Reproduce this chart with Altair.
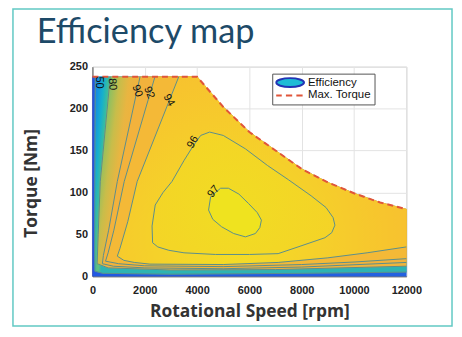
import altair as alt
import pandas as pd

title_text = "Efficiency map"
x_title = "Rotational Speed [rpm]"
y_title = "Torque [Nm]"
x_ticks = [0, 2000, 4000, 6000, 8000, 10000, 12000]
y_ticks = [0, 50, 100, 150, 200, 250]

# maximum torque envelope
env_speed = [0, 4000, 5000, 6000, 7000, 8000, 9000, 10000, 11000, 12000]
env_torque = [238, 238, 202, 172, 150, 128, 112, 99, 88, 80]

# iso-efficiency contours (speed rpm, torque Nm)
c50_speed = [110, 100, 90, 85, 95, 400, 3000, 8000, 12000]
c50_torque = [238, 180, 100, 30, 6, 3.5, 2.5, 3.5, 5]
c80_speed = [680, 300, 220, 180, 600, 3000, 7000, 12000]
c80_torque = [238, 113, 50, 15, 10, 7.5, 8, 12]
c90_speed = [1820, 950, 620, 420, 380, 800, 2000, 5000, 8000, 12000]
c90_torque = [238, 113, 55, 25, 15, 12, 10, 9, 11, 16.5]
c92_speed = [2390, 1215, 820, 600, 500, 1000, 2000, 5000, 8000, 10000, 12000]
c92_torque = [238, 113, 55, 28, 18, 15, 12.5, 11.5, 14, 17, 21]
c94_speed = [3300, 1710, 1350, 1050, 950, 1200, 1600, 2200, 5000, 7100, 9000, 10500, 12000]
c94_torque = [238, 113, 65, 33, 24, 19, 16.5, 14.5, 14, 16.5, 22, 28, 35]
c96_speed = [2300, 2280, 2400, 2700, 3040, 3500, 3840, 4140, 4480, 5000, 5850, 6700, 7500,
             8360, 8930, 9200, 9270, 9150, 8890, 7860, 7100, 6000, 4710, 3500, 2920, 2500]
c96_torque = [40, 60, 85, 100, 113, 138, 155, 168, 172, 168, 152, 132, 115,
              96, 82, 70, 61, 52, 46, 35, 27, 26, 26, 28, 31, 35]
c97_speed = [4900, 5200, 5600, 5960, 6300, 6460, 6400, 6230, 5850, 5400, 4940, 4600, 4440, 4520]
c97_torque = [105, 105, 98, 87, 76, 67, 58, 51, 47, 51, 59, 68, 79, 95]

label_text = ["50", "80", "90", "92", "94", "96", "97"]
label_speed = [266, 760, 1710, 2165, 2920, 3840, 4630]
label_torque = [231, 229, 221, 219, 210, 160, 101]

legend_names = ["Efficiency", "Max. Torque"]

open_contours = [(50, c50_speed, c50_torque), (80, c80_speed, c80_torque),
                 (90, c90_speed, c90_torque), (92, c92_speed, c92_torque),
                 (94, c94_speed, c94_torque)]
closed_contours = [(96, c96_speed, c96_torque), (97, c97_speed, c97_torque)]


def lin(stops, x2=1, y2=0.0):
    return {"gradient": "linear", "x1": 0, "y1": 0, "x2": x2, "y2": y2,
            "stops": [{"offset": o, "color": c} for o, c in stops]}


def rad(cx, cy, r, stops):
    return {"gradient": "radial", "x1": cx, "y1": cy, "r1": 0, "x2": cx, "y2": cy, "r2": r,
            "stops": [{"offset": o, "color": c} for o, c in stops]}


band_fills = {
    0: lin([(0, "#2a3fd0"), (0.004, "#2258e2"), (1, "#2462e0")]),
    50: lin([(0, "#1a78ea"), (0.015, "#1496dc"), (0.03, "#16b0cc"), (0.045, "#3cbc9c"),
             (0.06, "#62c07e"), (0.07, "#2db4b2"), (1, "#2db4b2")], y2=0.05),
    80: lin([(0, "#5cbc80"), (0.045, "#8ac062"), (0.075, "#c8bd4a"), (0.105, "#e9b541"),
             (0.14, "#f1b13c"), (1, "#f0b43c")], y2=0.08),
    90: "#f2b23c",
    92: "#f4b937",
    94: rad(0.40, 0.73, 0.78, [(0, "#f3de26"), (0.35, "#f5d12a"), (0.7, "#f7c42e"), (1, "#f6bb34")]),
    96: rad(0.45, 0.6, 0.7, [(0, "#f1dc23"), (1, "#f5d128")]),
    97: "#efe31f",
}
band_edge = {0: "#2458e0", 50: "#2db4b2", 80: "#f0b43c", 90: "#f2b23c", 92: "#f4b937",
             94: "#f7c42e", 96: "#f5d128", 97: "#efe31f"}
label_angles = {"50": 90, "80": 85, "90": 70, "92": 68, "94": 60, "96": 300, "97": 310}

env_pts = list(zip(env_speed, env_torque))

# regions (efficiency >= level) as polygons
poly_rows = []
base = [(0, 0), (12000, 0)] + list(reversed(env_pts))
for i, (s, t) in enumerate(base):
    poly_rows.append({"level": 0, "idx": i, "speed": s, "torque": t})
for lvl, cs, ct in open_contours:
    pts = list(zip(cs, ct)) + list(reversed([p for p in env_pts if p[0] > cs[0]]))
    for i, (s, t) in enumerate(pts):
        poly_rows.append({"level": lvl, "idx": i, "speed": s, "torque": t})
for lvl, cs, ct in closed_contours:
    for i, (s, t) in enumerate(zip(cs, ct)):
        poly_rows.append({"level": lvl, "idx": i, "speed": s, "torque": t})
poly_df = pd.DataFrame(poly_rows)

line_rows = []
for lvl, cs, ct in open_contours:
    for i, (s, t) in enumerate(zip(cs, ct)):
        line_rows.append({"level": lvl, "idx": i, "speed": s, "torque": t})
for lvl, cs, ct in closed_contours:
    pts = list(zip(cs, ct)) + [(cs[0], ct[0])]
    for i, (s, t) in enumerate(pts):
        line_rows.append({"level": lvl, "idx": i, "speed": s, "torque": t})
line_df = pd.DataFrame(line_rows)

env_df = pd.DataFrame({"speed": env_speed, "torque": env_torque})
lab_df = pd.DataFrame({"label": label_text, "speed": label_speed, "torque": label_torque})
leg_df = pd.DataFrame({"k": legend_names, "speed": [-5000, -5000], "torque": [-100, -100]})

xscale = alt.Scale(domain=[0, 12000], nice=False)
yscale = alt.Scale(domain=[0, 250], nice=False)

x_enc = alt.X("speed:Q", scale=xscale, axis=alt.Axis(
    values=x_ticks, format="d", title=x_title, labelFont="Liberation Sans",
    labelFontWeight="bold", labelFontSize=11, labelColor="#222", labelPadding=8,
    labelFlush=False, ticks=False, domainColor="#555", gridColor="#e3e3e3",
    titleFont="Open Sans", titleFontWeight="bold", titleFontSize=17.5, titleColor="#333",
    titleY=36, titleBaseline="middle"))
y_enc = alt.Y("torque:Q", scale=yscale, axis=alt.Axis(
    values=y_ticks, title=y_title, labelFont="Liberation Sans",
    labelFontWeight="bold", labelFontSize=11, labelColor="#222", labelPadding=5,
    labelFlush=False, ticks=False, domainColor="#555", gridColor="#e3e3e3",
    titleFont="Open Sans", titleFontWeight="bold", titleFontSize=17.5, titleColor="#333",
    titleX=-61, titleY=117, titleAngle=270, titleBaseline="middle"))

layers = []
frame = alt.Chart(alt.Data(values=[{}])).mark_rect(
    fillOpacity=0, stroke="#62c9c4", strokeWidth=1.5).encode(
    x=alt.value(-80), x2=alt.value(362), y=alt.value(-58), y2=alt.value(261))
layers.append(frame)

for lvl in [0, 50, 80, 90, 92, 94, 96, 97]:
    layers.append(alt.Chart(poly_df).transform_filter(alt.datum.level == lvl).mark_line(
        fill=band_fills[lvl], stroke=band_edge[lvl], strokeWidth=0.4,
        interpolate="linear-closed").encode(x=x_enc, y=y_enc, order="idx:Q"))

layers.append(alt.Chart(line_df).mark_line(color="#5b8e8c", strokeWidth=1).encode(
    x=x_enc, y=y_enc, detail="level:N", order="idx:Q"))

layers.append(alt.Chart(env_df).mark_line(color="#e0553a", strokeWidth=2, strokeDash=[6, 4]).encode(
    x=x_enc, y=y_enc))

for txt in label_text:
    layers.append(alt.Chart(lab_df).transform_filter(alt.datum.label == txt).mark_text(
        font="Liberation Sans", fontSize=11, color="#111", angle=label_angles[txt]).encode(
        x=x_enc, y=y_enc, text="label:N"))

ellipse = "M-1,0A1,0.32,0,1,1,1,0A1,0.32,0,1,1,-1,0Z"
dashes = "M-1,0H-0.6M-0.3,0H0.15M0.45,0H0.9"
pad = "\u00a0" * 6
leg = alt.Legend(title=None, labelExpr=f"datum.label + '{pad}'")
layers.append(alt.Chart(leg_df).mark_point(clip=True, size=784, strokeWidth=2, opacity=1).encode(
    x=x_enc, y=y_enc,
    shape=alt.Shape("k:N", scale=alt.Scale(domain=legend_names, range=[ellipse, dashes]), legend=leg),
    fill=alt.Fill("k:N", scale=alt.Scale(domain=legend_names, range=["#1fbcd6", "transparent"]), legend=leg),
    stroke=alt.Stroke("k:N", scale=alt.Scale(domain=legend_names, range=["#2234b5", "#e0553a"]), legend=leg)))

layers.append(alt.Chart(alt.Data(values=[{}])).mark_text(
    text=title_text, font="Lato", fontSize=34.5, color="#1d4a68", align="left", baseline="alphabetic").encode(
    x=alt.value(-56), y=alt.value(-24)))

chart = alt.layer(*layers).properties(
    width=316, height=211, autosize=alt.AutoSizeParams(type="none"),
    padding={"left": 85, "top": 58, "right": 48, "bottom": 52},
    background="white"
).configure_view(stroke="#cfcfcf", strokeWidth=1).configure_legend(
    orient="none", legendX=181, legendY=7, padding=3, fillColor="white", strokeColor="#555",
    labelFont="Liberation Sans", labelFontSize=11.5, labelColor="#111", labelOffset=3,
    rowPadding=1, clipHeight=12, symbolSize=784, symbolStrokeWidth=2, cornerRadius=0)

chart.save("out.html", embed_options={"renderer": "svg", "actions": False})
